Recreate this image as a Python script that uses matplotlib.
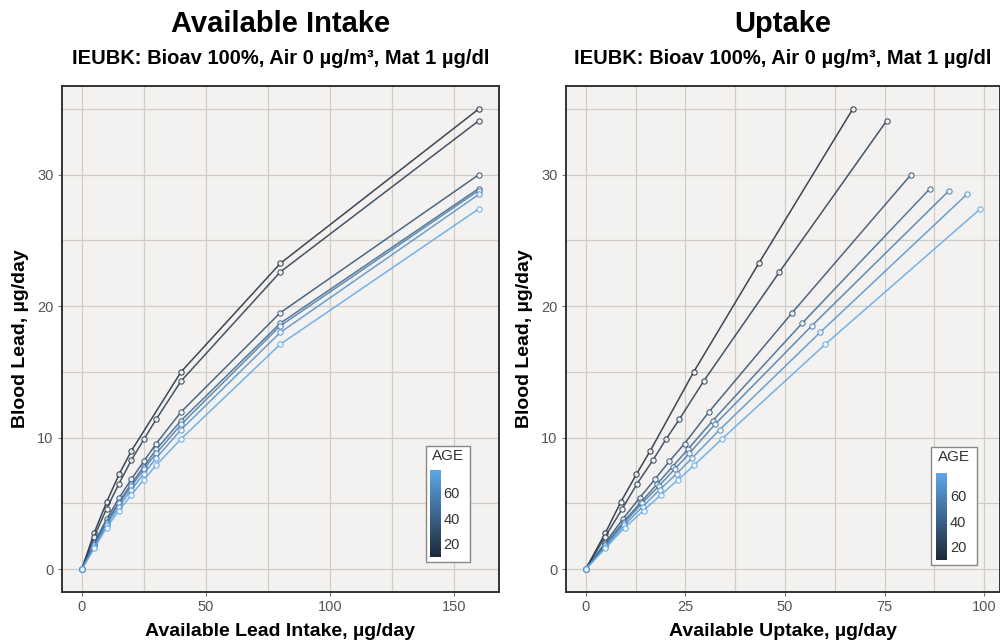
import numpy as np
import matplotlib.pyplot as plt
from matplotlib.colors import LinearSegmentedColormap, Normalize
from matplotlib.patches import Rectangle
from matplotlib.ticker import MultipleLocator

plt.rcParams['font.family'] = ['Liberation Sans Narrow', 'Liberation Sans', 'DejaVu Sans']

# ages (months) of the seven IEUBK age groups
AGES = [9, 18, 30, 42, 54, 66, 78]

INTAKE_A = [0, 5, 10, 15, 20, 40, 80, 160]
INTAKE_B = [0, 5, 10, 15, 20, 25, 30, 40, 80, 160]
INTAKE = [INTAKE_A] + [INTAKE_B] * 6

BLOOD_LEAD = [
    [0, 2.76, 5.1, 7.2, 9.0, 15.0, 23.25, 35.0],
    [0, 2.46, 4.6, 6.5, 8.3, 9.86, 11.4, 14.3, 22.6, 34.1],
    [0, 2.0, 3.8, 5.4, 6.85, 8.2, 9.55, 11.95, 19.5, 30.0],
    [0, 1.85, 3.6, 5.1, 6.5, 7.8, 9.1, 11.3, 18.7, 28.95],
    [0, 1.8, 3.5, 5.0, 6.3, 7.6, 8.8, 11.0, 18.5, 28.8],
    [0, 1.65, 3.35, 4.75, 6.05, 7.25, 8.45, 10.6, 18.0, 28.5],
    [0, 1.6, 3.15, 4.45, 5.65, 6.8, 7.9, 9.9, 17.1, 27.4],
]

UPTAKE = [
    [0, 4.95, 8.8, 12.7, 16.2, 27.1, 43.4, 67.0],
    [0, 4.9, 9.2, 12.9, 16.9, 20.1, 23.5, 29.6, 48.6, 75.5],
    [0, 4.9, 9.3, 13.5, 17.4, 21.0, 24.8, 30.9, 51.8, 81.6],
    [0, 4.9, 9.5, 13.9, 18.0, 21.8, 25.6, 31.9, 54.3, 86.4],
    [0, 4.95, 9.6, 14.1, 18.3, 22.3, 26.0, 32.4, 56.7, 91.2],
    [0, 4.95, 9.7, 14.3, 18.6, 22.8, 26.7, 33.6, 58.8, 95.6],
    [0, 4.95, 9.8, 14.5, 18.9, 23.2, 27.2, 34.2, 60.1, 99.0],
]

SUBTITLE = 'IEUBK: Bioav 100%, Air 0 µg/m³, Mat 1 µg/dl'

CMAP = LinearSegmentedColormap.from_list('gg', ['#1c2838', '#5da6e8'])
NORM = Normalize(vmin=min(AGES), vmax=max(AGES))
PANEL_BG = '#f3f2f0'
GRID_COLOR = '#d0ccc8'


def style_axes(ax):
    ax.set_facecolor(PANEL_BG)
    ax.grid(True, which='both', color=GRID_COLOR, linewidth=0.9)
    ax.set_axisbelow(True)
    for s in ax.spines.values():
        s.set_color('#333333')
        s.set_linewidth(1.4)
    ax.tick_params(which='major', direction='out', length=3, color='#777777',
                   labelsize=10.5, labelcolor='#555555', pad=3)
    ax.tick_params(which='minor', length=0)


def add_age_bar(fig, ax, box, bar):
    ax.add_patch(Rectangle((box[0], box[1]), box[2], box[3], transform=ax.transAxes,
                           facecolor='white', edgecolor='#888888', linewidth=1.0, zorder=6))
    ax.text(box[0] + box[2] / 2, box[1] + box[3] - 0.006, 'AGE', transform=ax.transAxes,
            ha='center', va='top', fontsize=11, color='#333333', zorder=7)
    cax = ax.inset_axes(bar, zorder=8)
    cb = fig.colorbar(plt.cm.ScalarMappable(norm=NORM, cmap=CMAP), cax=cax)
    cb.outline.set_visible(False)
    cb.set_ticks([20, 40, 60])
    cax.tick_params(length=0, labelsize=10.5, labelcolor='#333333', pad=2)


def draw_panel(ax, xs_list, title, xlabel, xlim, xmajor):
    for age, xs, ys in zip(AGES, xs_list, BLOOD_LEAD):
        c = CMAP(NORM(age))
        ax.plot(xs, ys, color=c, linewidth=1.1, alpha=0.85, zorder=3,
                marker='o', markersize=3.8, markerfacecolor='white',
                markeredgecolor=c, markeredgewidth=0.8)
    ax.set_xlim(*xlim)
    ax.set_ylim(-1.75, 36.75)
    ax.xaxis.set_major_locator(MultipleLocator(xmajor))
    ax.xaxis.set_minor_locator(MultipleLocator(xmajor / 2))
    ax.yaxis.set_major_locator(MultipleLocator(10))
    ax.yaxis.set_minor_locator(MultipleLocator(5))
    style_axes(ax)
    ax.set_xlabel(xlabel, fontsize=14, fontweight='bold', labelpad=6)
    ax.set_ylabel('Blood Lead, µg/day', fontsize=14, fontweight='bold', labelpad=6)
    ax.text(0.5, 1.095, title, transform=ax.transAxes, ha='center', va='bottom',
            fontsize=21, fontweight='bold')
    ax.text(0.5, 1.035, SUBTITLE, transform=ax.transAxes, ha='center', va='bottom',
            fontsize=14.5, fontweight='bold')


fig = plt.figure(figsize=(10, 6.44), dpi=100)
ax1 = fig.add_axes([0.062, 0.0807, 0.4365, 0.7857])
ax2 = fig.add_axes([0.566, 0.0807, 0.434, 0.7857])

draw_panel(ax1, INTAKE, 'Available Intake', 'Available Lead Intake, µg/day', (-8, 168), 50)
draw_panel(ax2, UPTAKE, 'Uptake', 'Available Uptake, µg/day', (-4.95, 103.95), 25)

add_age_bar(fig, ax1, (0.834, 0.059, 0.101, 0.230), (0.843, 0.069, 0.025, 0.172))
add_age_bar(fig, ax2, (0.841, 0.053, 0.106, 0.234), (0.853, 0.063, 0.025, 0.172))

fig.savefig('out.png', dpi=100, facecolor='white')
